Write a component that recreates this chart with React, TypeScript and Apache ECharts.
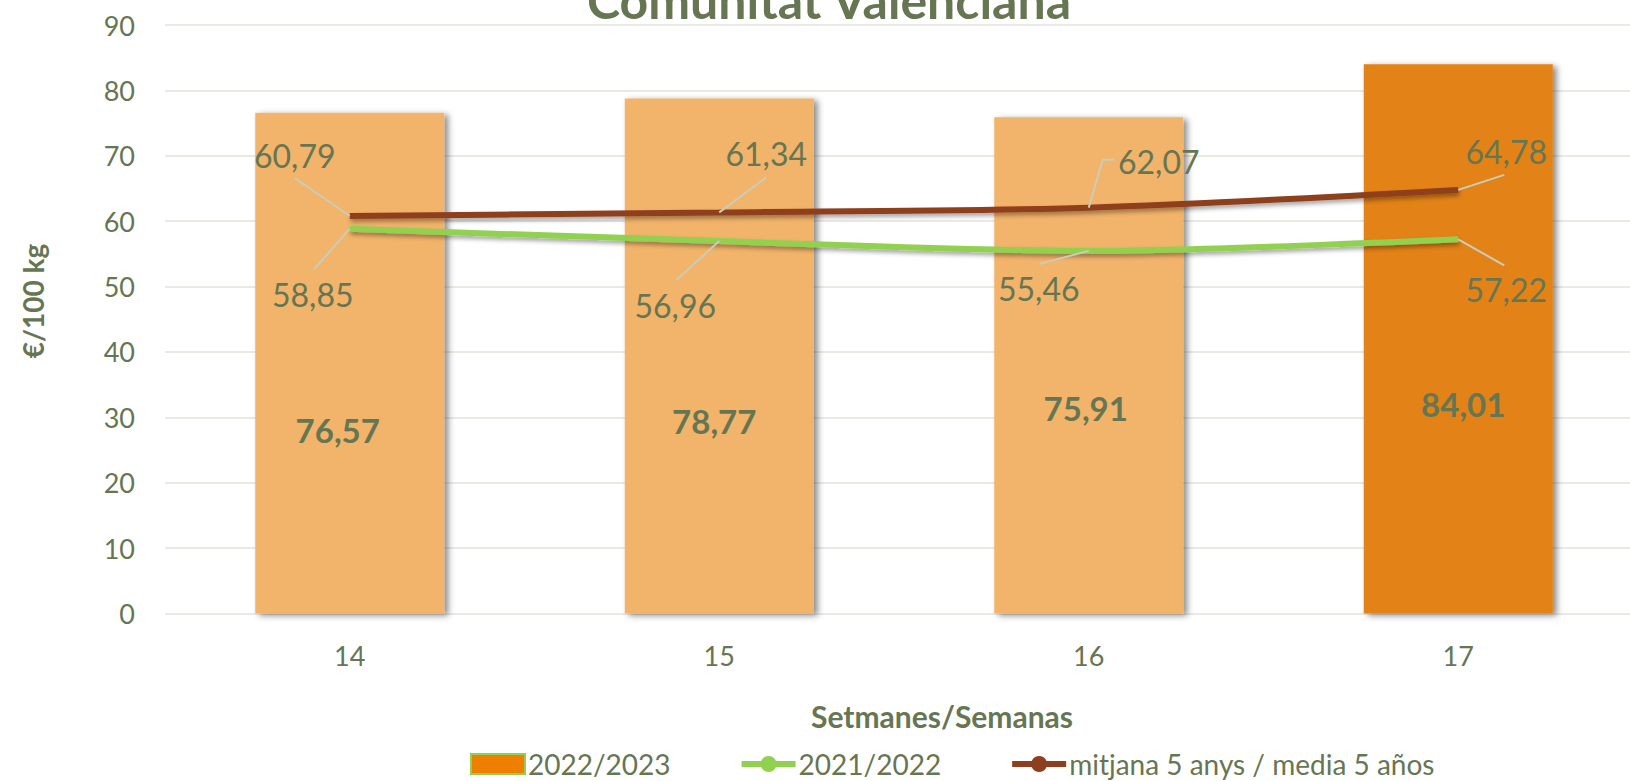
import React, { useEffect, useRef } from "react";
import * as echarts from "echarts";

const weeks = ["14", "15", "16", "17"];
const season2223 = [76.57, 78.77, 75.91, 84.01];
const season2122 = [58.85, 56.96, 55.46, 57.22];
const avg5 = [60.79, 61.34, 62.07, 64.78];
const yTicks = { min: 0, max: 90, interval: 10 };

const titleText = "Comunitat Valenciana";
const yName = "€/100 kg";
const xName = "Setmanes/Semanas";
const seriesNames = ["2022/2023", "2021/2022", "mitjana 5 anys / media 5 años"];

// layout-only arrays (pixel offsets relative to each data point)
const barLabelOffsets = [[-12, 67], [-5, 65], [-3, 43], [5, 65]];
const avgLabelOffsets = [[-55, -61], [47, -59], [70, -46], [48, -38]];
const prevLabelOffsets = [[-37, 66], [-44, 64], [-50, 38], [48, 50]];
const avgLeaders = [[[-55, -38]], [[47, -35]], [[14, -48], [26, -48]], [[46, -15]]];
const prevLeaders = [[[-36, 41]], [[-43, 39]], [[-49, 13]], [[46, 26]]];

const TEXT = "#667652";
const FONT = "Lato";
const fmt = (v: number) => v.toFixed(2).replace(".", ",");

export default function App() {
  const ref = useRef<HTMLDivElement>(null);
  useEffect(() => {
    if (!ref.current) return;
    const chart = echarts.init(ref.current, undefined, { renderer: "svg" });
    const barColors = ["#F2B36B", "#F2B36B", "#F2B36B", "#E38212"];
    const lineShadow = {
      shadowColor: "rgba(0,0,0,0.35)",
      shadowBlur: 4,
      shadowOffsetY: 3,
      shadowOffsetX: 1,
    };
    const lineLabelStyle = {
      show: true,
      position: "inside",
      color: TEXT,
      fontSize: 32,
      fontFamily: FONT,
      formatter: (p: any) => fmt(p.value),
    };
    const texts = [
      {
        type: "text",
        x: 829,
        y: 0,
        z: 20,
        style: { text: titleText, font: `bold 50px ${FONT}`, fill: TEXT, align: "center", verticalAlign: "middle" },
      },
      {
        type: "text",
        x: 33,
        y: 301,
        rotation: Math.PI / 2,
        z: 20,
        style: { text: yName, font: `bold 28px ${FONT}`, fill: TEXT, align: "center", verticalAlign: "middle" },
      },
      {
        type: "text",
        x: 942,
        y: 716,
        z: 20,
        style: { text: xName, font: `bold 30px ${FONT}`, fill: TEXT, align: "center", verticalAlign: "middle" },
      },
    ];
    chart.setOption({
      animation: false,
      textStyle: { fontFamily: FONT },
      grid: { left: 165, right: 0, top: 25, bottom: 167.5, containLabel: false },
      xAxis: {
        type: "category",
        data: weeks,
        axisLine: { show: false },
        axisTick: { show: false },
        axisLabel: { color: TEXT, fontSize: 27, fontFamily: FONT, margin: 28 },
      },
      yAxis: {
        type: "value",
        min: yTicks.min,
        max: yTicks.max,
        interval: yTicks.interval,
        axisLine: { show: false },
        axisTick: { show: false },
        axisLabel: { color: TEXT, fontSize: 27, fontFamily: FONT, margin: 30 },
        splitLine: { lineStyle: { color: "#E3E3DC", width: 1.5 } },
      },
      legend: {
        left: 470,
        top: 750,
        padding: 0,
        itemWidth: 54,
        itemHeight: 20,
        itemGap: 68,
        lineStyle: { width: 6 },
        textStyle: { color: TEXT, fontSize: 28, fontFamily: FONT, padding: [0, 0, 0, -2] },
        data: [
          { name: seriesNames[0], icon: "rect", itemStyle: { color: "#EE7F00", borderColor: "#92D050", borderWidth: 2 } },
          { name: seriesNames[1] },
          { name: seriesNames[2] },
        ],
      },
      graphic: texts,
      series: [
        {
          name: seriesNames[0],
          type: "bar",
          barWidth: 189,
          z: 1,
          itemStyle: {
            color: "#E38212",
            shadowColor: "rgba(0,0,0,0.45)",
            shadowBlur: 6,
            shadowOffsetX: 4,
            shadowOffsetY: 2,
          },
          data: season2223.map((v, i) => ({
            value: v,
            itemStyle: { color: barColors[i] },
            label: { offset: barLabelOffsets[i] },
          })),
          label: {
            show: true,
            position: "inside",
            color: TEXT,
            fontSize: 33,
            fontWeight: "bold",
            fontFamily: FONT,
            formatter: (p: any) => fmt(p.value),
          },
        },
        {
          name: seriesNames[1],
          type: "line",
          data: season2122,
          z: 3,
          smooth: 0.3,
          symbol: "circle",
          symbolSize: 1,
          showSymbol: true,
          itemStyle: { color: "#92D050" },
          lineStyle: { color: "#92D050", width: 6, ...lineShadow },
          label: lineLabelStyle,
          labelLayout: (p: any) => ({ dx: prevLabelOffsets[p.dataIndex][0], dy: prevLabelOffsets[p.dataIndex][1] }),
        },
        {
          name: seriesNames[2],
          type: "line",
          data: avg5,
          z: 4,
          smooth: 0.3,
          symbol: "circle",
          symbolSize: 1,
          showSymbol: true,
          itemStyle: { color: "#8E3F1F" },
          lineStyle: { color: "#8E3F1F", width: 6, ...lineShadow },
          label: lineLabelStyle,
          labelLayout: (p: any) => ({ dx: avgLabelOffsets[p.dataIndex][0], dy: avgLabelOffsets[p.dataIndex][1] }),
        },
      ],
    });
    // leader lines from each point (through the library's scales) to its label
    const leaders: any[] = [];
    const addLeaders = (seriesIndex: number, values: number[], offs: number[][][]) => {
      values.forEach((v, i) => {
        const p = chart.convertToPixel({ seriesIndex }, [i, v]) as number[];
        const pts = [[p[0], p[1]], ...offs[i].map((o) => [p[0] + o[0], p[1] + o[1]])];
        leaders.push({
          type: "polyline",
          z: 15,
          shape: { points: pts },
          style: { stroke: "#C9CDBB", lineWidth: 2, fill: "none" },
        });
      });
    };
    addLeaders(1, season2122, prevLeaders);
    addLeaders(2, avg5, avgLeaders);
    chart.setOption({ graphic: [...texts, ...leaders] }, { replaceMerge: ["graphic"] });
    return () => chart.dispose();
  }, []);
  return (
    <div style={{ position: "absolute", left: 0, top: 0, width: 1630, height: 781, overflow: "hidden", background: "#fff" }}>
      <div ref={ref} style={{ width: 1643, height: 781 }} />
    </div>
  );
}
